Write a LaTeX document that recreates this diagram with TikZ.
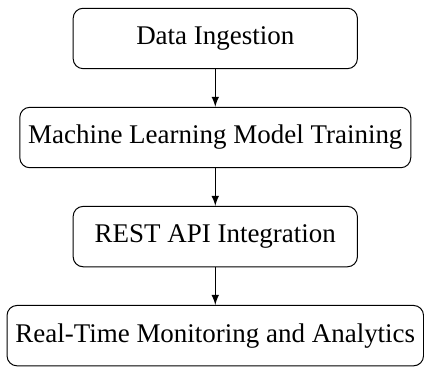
\documentclass[tikz,border=0pt]{standalone}
\usepackage{fontspec}
\setmainfont{Liberation Serif}
\usetikzlibrary{positioning}

\begin{document}
\begin{tikzpicture}[
      node distance=0.53cm,
      every node/.style={font=\fontsize{10.8}{13}\selectfont},
      stage/.style={draw,rounded corners,minimum width=4cm,minimum height=0.85cm},
      link/.style={-latex}
    ]
      \node[stage] (ingest) {Data Ingestion};
      \node[stage,below=of ingest] (train) {Machine Learning Model Training};
      \node[stage,below=of train] (api) {REST API Integration};
      \node[stage,below=of api] (monitor) {Real-Time Monitoring and Analytics};

      \draw[link] (ingest) -- (train);
      \draw[link] (train) -- (api);
      \draw[link] (api) -- (monitor);

      % keep the margins of the sheet
      \useasboundingbox ([shift={(-86.2pt,15.4pt)}]ingest.center)
        rectangle ([shift={(83.4pt,-130.2pt)}]ingest.center);
    \end{tikzpicture}
\end{document}
